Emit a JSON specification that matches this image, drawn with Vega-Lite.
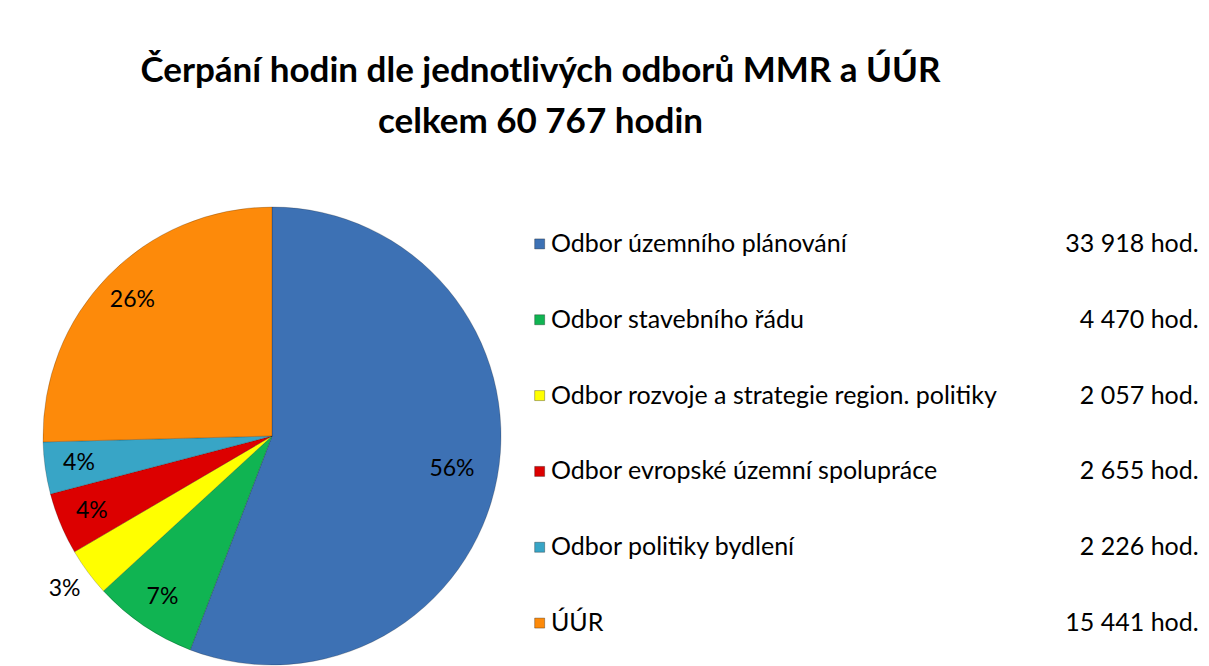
{
  "$schema": "https://vega.github.io/schema/vega-lite/v6.json",
  "background": "white",
  "padding": {"left": 41, "top": 54, "right": 10, "bottom": 0},
  "title": {
    "text": ["Čerpání hodin dle jednotlivých odborů MMR a ÚÚR", "celkem 60 767 hodin"],
    "font": "Lato",
    "fontSize": 35,
    "fontWeight": "bold",
    "color": "#000000",
    "lineHeight": 51,
    "anchor": "middle",
    "dx": -81,
    "offset": 65
  },
  "datasets": {
    "rows": [
      {"order": 1, "name": "Odbor územního plánování", "hours": 33918, "pct": "56%", "value_label": "33 918 hod."},
      {"order": 2, "name": "Odbor stavebního řádu", "hours": 4470, "pct": "7%", "value_label": "4 470 hod."},
      {"order": 3, "name": "Odbor rozvoje a strategie region. politiky", "hours": 2057, "pct": "3%", "value_label": "2 057 hod."},
      {"order": 4, "name": "Odbor evropské územní spolupráce", "hours": 2655, "pct": "4%", "value_label": "2 655 hod."},
      {"order": 5, "name": "Odbor politiky bydlení", "hours": 2226, "pct": "4%", "value_label": "2 226 hod."},
      {"order": 6, "name": "ÚÚR", "hours": 15441, "pct": "26%", "value_label": "15 441 hod."}
    ]
  },
  "spacing": 29,
  "hconcat": [
    {
      "width": 460,
      "height": 460,
      "data": {"name": "rows"},
      "encoding": {
        "theta": {"field": "hours", "type": "quantitative", "stack": true},
        "order": {"field": "order", "type": "quantitative"}
      },
      "layer": [
        {
          "mark": {"type": "arc", "outerRadius": 229, "stroke": "#000000", "strokeOpacity": 0.2, "strokeWidth": 1},
          "encoding": {
            "color": {
              "field": "name",
              "type": "nominal",
              "scale": {
                "domain": ["Odbor územního plánování", "Odbor stavebního řádu", "Odbor rozvoje a strategie region. politiky", "Odbor evropské územní spolupráce", "Odbor politiky bydlení", "ÚÚR"],
                "range": ["#3d71b4", "#10b452", "#ffff00", "#dc0000", "#38a5c6", "#fd8a0a"]
              },
              "legend": null
            }
          }
        },
        {
          "mark": {"type": "text", "radius": {"expr": "datum.order == 3 ? 258 : (datum.order == 1 ? 183 : 195)"}, "font": "Lato", "fontSize": 23, "color": "#000000"},
          "encoding": {
            "text": {"field": "pct"}
          }
        }
      ]
    },
    {
      "width": 665,
      "height": 455,
      "data": {"name": "rows"},
      "encoding": {
        "y": {"field": "name", "type": "nominal", "sort": {"field": "order"}, "axis": null}
      },
      "layer": [
        {
          "mark": {"type": "square", "size": 100, "filled": true, "opacity": 1, "stroke": "#000000", "strokeOpacity": 0.3, "strokeWidth": 1},
          "encoding": {
            "x": {"datum": 0.004, "type": "quantitative", "scale": {"domain": [0, 1], "nice": false, "zero": false}, "axis": null},
            "color": {
              "field": "name",
              "type": "nominal",
              "scale": {
                "domain": ["Odbor územního plánování", "Odbor stavebního řádu", "Odbor rozvoje a strategie region. politiky", "Odbor evropské územní spolupráce", "Odbor politiky bydlení", "ÚÚR"],
                "range": ["#3d71b4", "#10b452", "#ffff00", "#dc0000", "#38a5c6", "#fd8a0a"]
              },
              "legend": null
            }
          }
        },
        {
          "mark": {"type": "text", "align": "left", "baseline": "middle", "font": "Lato", "fontSize": 25, "color": "#000000"},
          "encoding": {
            "x": {"datum": 0.021, "type": "quantitative"},
            "text": {"field": "name"}
          }
        },
        {
          "mark": {"type": "text", "align": "right", "baseline": "middle", "font": "Lato", "fontSize": 25, "color": "#000000"},
          "encoding": {
            "x": {"datum": 0.995, "type": "quantitative"},
            "text": {"field": "value_label"}
          }
        }
      ]
    }
  ],
  "config": {
    "view": {"stroke": null},
    "font": "Lato"
  }
}
